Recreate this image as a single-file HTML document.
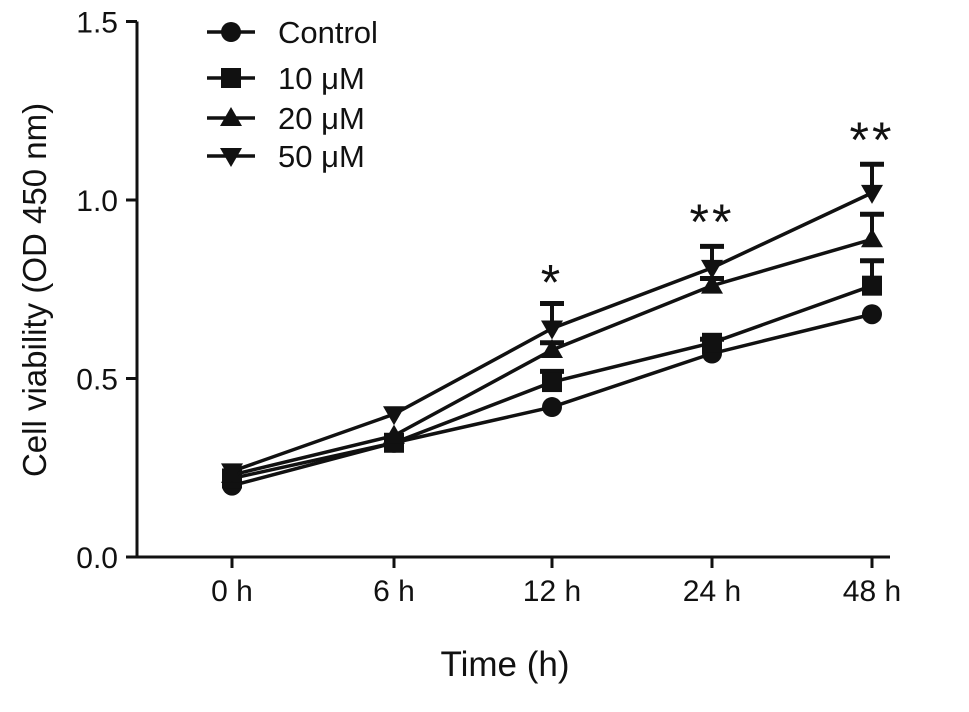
<!DOCTYPE html>
<html><head><meta charset="utf-8"><style>
body{margin:0;background:#fff;}
svg text{font-family:"Liberation Sans",Arial,sans-serif;fill:#111;}
</style></head><body>
<svg id="chart" width="969" height="707" xmlns="http://www.w3.org/2000/svg"></svg>
<script>
const categories=["0 h","6 h","12 h","24 h","48 h"];
const seriesNames=["Control","10 μM","20 μM","50 μM"];
const control=[0.20,0.32,0.42,0.57,0.68];
const m10=[0.22,0.32,0.49,0.60,0.76];
const m20=[0.23,0.34,0.58,0.76,0.89];
const m50=[0.24,0.40,0.64,0.81,1.02];
const err10=[0,0,0.03,0.01,0.07];
const err20=[0,0,0.02,0.02,0.07];
const err50=[0,0,0.07,0.06,0.08];
const yTicks=[0.0,0.5,1.0,1.5];
const yTickLabels=["0.0","0.5","1.0","1.5"];
const sigLabels=["","","*","**","**"];
const sigValues=[0,0,0.76,0.93,1.16];

const svg=document.getElementById('chart');
const NS="http://www.w3.org/2000/svg";
const xPos=[232,394,552,712,872];
function X(i){return xPos[i];}
function Y(v){return 557-v*357;}
function mk(tag,attrs,parent){const e=document.createElementNS(NS,tag);for(const k in attrs)e.setAttribute(k,attrs[k]);(parent||svg).appendChild(e);return e;}

let yl=mk('line',{x1:137,y1:Y(1.5),x2:137,y2:557,stroke:'#111','stroke-width':3});


let xl=mk('line',{x1:137,y1:557,x2:890,y2:557,stroke:'#111','stroke-width':3});


yTicks.forEach((t,i)=>{
  mk('line',{x1:126,y1:Y(t),x2:137,y2:Y(t),stroke:'#111','stroke-width':3});
  const tx=mk('text',{x:118,y:Y(t)+11,'text-anchor':'end','font-size':30});
  tx.textContent=yTickLabels[i];
  
  
});
categories.forEach((c,i)=>{
  mk('line',{x1:X(i),y1:557,x2:X(i),y2:568,stroke:'#111','stroke-width':3});
  const tx=mk('text',{x:X(i),y:601,'text-anchor':'middle','font-size':30});
  tx.textContent=c;
  
  
});
let xt=mk('text',{x:505,y:676,'text-anchor':'middle','font-size':35});
xt.textContent="Time (h)";


let yt=mk('text',{x:0,y:0,'text-anchor':'middle','font-size':33,transform:'translate(46,290) rotate(-90)'});
yt.textContent="Cell viability (OD 450 nm)";



function marker(type,x,y,g){
  if(type==0)mk('circle',{cx:x,cy:y,r:10,fill:'#111'},g);
  else if(type==1)mk('rect',{x:x-10,y:y-10,width:20,height:20,fill:'#111'},g);
  else if(type==2)mk('polygon',{points:`${x},${y-11} ${x-11},${y+8} ${x+11},${y+8}`,fill:'#111'},g);
  else mk('polygon',{points:`${x},${y+11} ${x-11},${y-8} ${x+11},${y-8}`,fill:'#111'},g);
}
const all=[control,m10,m20,m50];
const errs=[null,err10,err20,err50];
all.forEach((s,si)=>{
  const g=mk('g',{});
  
  
  if(errs[si])s.forEach((v,i)=>{const e=errs[si][i];if(e>0){
    mk('line',{x1:X(i),y1:Y(v),x2:X(i),y2:Y(v+e),stroke:'#111','stroke-width':4},g);
    mk('line',{x1:X(i)-12,y1:Y(v+e),x2:X(i)+12,y2:Y(v+e),stroke:'#111','stroke-width':5},g);}});
  mk('polyline',{points:s.map((v,i)=>X(i)+','+Y(v)).join(' '),fill:'none',stroke:'#111','stroke-width':3.5},g);
  s.forEach((v,i)=>marker(si,X(i),Y(v),g));
});
sigLabels.forEach((l,i)=>{if(!l)return;
  const t=mk('text',{x:X(i),y:Y(sigValues[i])+14,'text-anchor':'middle','font-size':50,'letter-spacing':'3'});
  t.textContent=l;
  
  
});
seriesNames.forEach((n,i)=>{
  const y=[32,78,118,156][i];
  const g=mk('g',{});
  
  
  mk('line',{x1:207,y1:y,x2:255,y2:y,stroke:'#111','stroke-width':3.5},g);
  marker(i,231,y,g);
  const t=mk('text',{x:278,y:y+11,'font-size':31},g);
  t.textContent=n;
});
</script>
</body></html>
